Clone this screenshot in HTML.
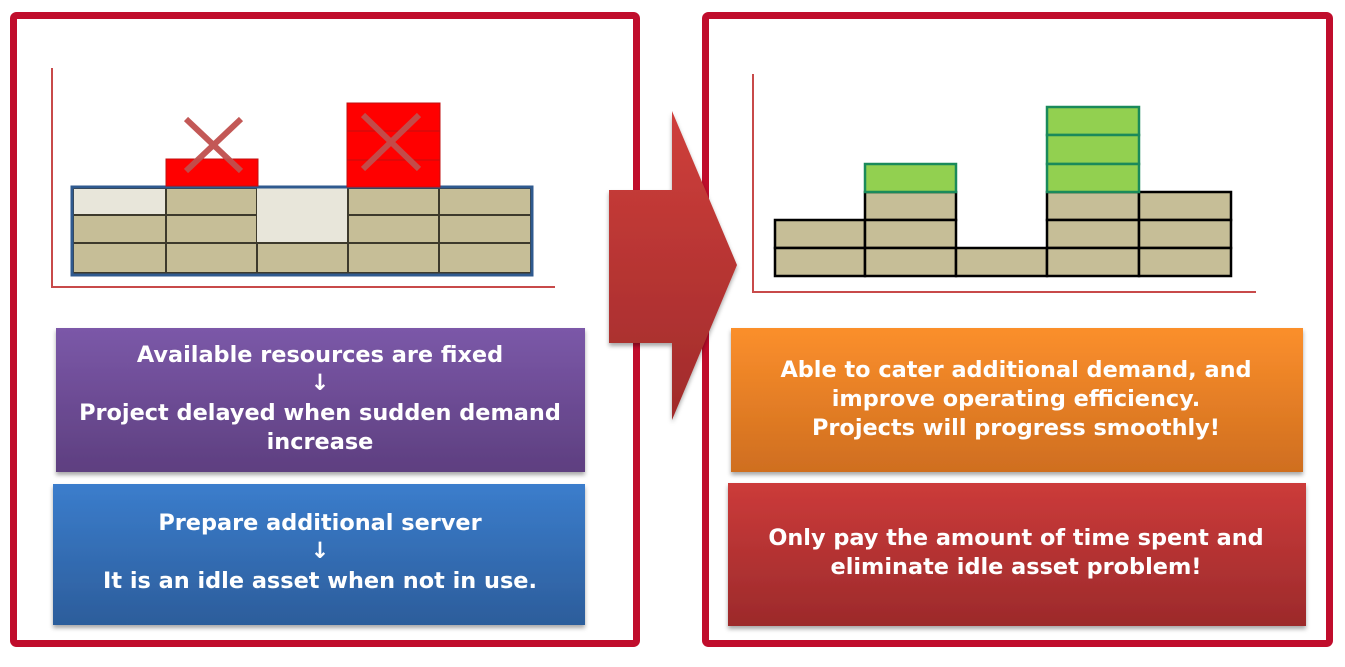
<!DOCTYPE html>
<html><head><meta charset="utf-8"><style>
html,body{margin:0;padding:0;background:#fff;width:1345px;height:667px;overflow:hidden}
svg{display:block}
text{font-family:"DejaVu Sans","Liberation Sans",sans-serif;font-weight:bold;font-size:22.4px;fill:#fff;text-anchor:middle}
</style></head><body>
<svg width="1345" height="667" viewBox="0 0 1345 667" xmlns="http://www.w3.org/2000/svg">
<defs>
<linearGradient id="gp" x1="0" y1="0" x2="0" y2="1"><stop offset="0" stop-color="#7b58a8"/><stop offset="1" stop-color="#5e3f80"/></linearGradient>
<linearGradient id="gb" x1="0" y1="0" x2="0" y2="1"><stop offset="0" stop-color="#3b7dcc"/><stop offset="1" stop-color="#2c5d9b"/></linearGradient>
<linearGradient id="go" x1="0" y1="0" x2="0" y2="1"><stop offset="0" stop-color="#fb8f2c"/><stop offset="1" stop-color="#cf6e1f"/></linearGradient>
<linearGradient id="gr" x1="0" y1="0" x2="0" y2="1"><stop offset="0" stop-color="#cc3b3a"/><stop offset="1" stop-color="#9c2a2b"/></linearGradient>
<linearGradient id="ga" x1="0" y1="0" x2="0" y2="1"><stop offset="0" stop-color="#cf3f3b"/><stop offset="1" stop-color="#a02b2b"/></linearGradient>
<filter id="sh" x="-5%" y="-5%" width="110%" height="115%"><feDropShadow dx="0" dy="3" stdDeviation="2" flood-opacity="0.35"/></filter>
</defs>
<rect x="13.5" y="15.5" width="623" height="628" rx="3" fill="none" stroke="#c00d2c" stroke-width="7"/>
<rect x="705.5" y="15.5" width="624" height="628" rx="3" fill="none" stroke="#c00d2c" stroke-width="7"/>

<line x1="52" y1="68" x2="52" y2="288" stroke="#c84a4a" stroke-width="2"/>
<line x1="51" y1="287" x2="555" y2="287" stroke="#c84a4a" stroke-width="2"/>
<g stroke="#3d3a2c" stroke-width="2">
<rect x="73" y="188" width="93" height="27" fill="#e8e6da"/>
<rect x="73" y="215" width="93" height="28" fill="#c6be97"/>
<rect x="73" y="243" width="93" height="30" fill="#c6be97"/>
<rect x="166" y="188" width="91" height="27" fill="#c6be97"/>
<rect x="166" y="215" width="91" height="28" fill="#c6be97"/>
<rect x="166" y="243" width="91" height="30" fill="#c6be97"/>
<rect x="257" y="188" width="91" height="55" fill="#e8e6da" stroke="none"/>
<rect x="257" y="243" width="91" height="30" fill="#c6be97"/>
<rect x="348" y="188" width="91" height="27" fill="#c6be97"/>
<rect x="348" y="215" width="91" height="28" fill="#c6be97"/>
<rect x="348" y="243" width="91" height="30" fill="#c6be97"/>
<rect x="439" y="188" width="92" height="27" fill="#c6be97"/>
<rect x="439" y="215" width="92" height="28" fill="#c6be97"/>
<rect x="439" y="243" width="92" height="30" fill="#c6be97"/>
</g>
<rect x="72" y="187" width="460" height="88" fill="none" stroke="#2f5a8f" stroke-width="3"/>
<g fill="#ff0000" stroke="#c01010" stroke-width="1">
<rect x="166" y="159" width="92" height="27"/>
<rect x="347" y="103" width="93" height="28"/>
<rect x="347" y="131" width="93" height="29"/>
<rect x="347" y="160" width="93" height="27"/>
</g>
<g stroke="#c0504d" stroke-width="6" stroke-linecap="butt" opacity="0.95">
<line x1="186" y1="119" x2="241" y2="171"/><line x1="241" y1="119" x2="186" y2="171"/>
<line x1="363" y1="115" x2="419" y2="169"/><line x1="419" y1="115" x2="363" y2="169"/>
</g>

<line x1="753" y1="74" x2="753" y2="293" stroke="#c84a4a" stroke-width="2"/>
<line x1="752" y1="292" x2="1256" y2="292" stroke="#c84a4a" stroke-width="2"/>
<g stroke="#000" stroke-width="2.5" fill="#c6be97">
<rect x="775" y="220" width="90" height="28"/>
<rect x="775" y="248" width="90" height="28"/>
<rect x="865" y="192" width="91" height="28"/>
<rect x="865" y="220" width="91" height="28"/>
<rect x="865" y="248" width="91" height="28"/>
<rect x="956" y="248" width="91" height="28"/>
<rect x="1047" y="192" width="92" height="28"/>
<rect x="1047" y="220" width="92" height="28"/>
<rect x="1047" y="248" width="92" height="28"/>
<rect x="1139" y="192" width="92" height="28"/>
<rect x="1139" y="220" width="92" height="28"/>
<rect x="1139" y="248" width="92" height="28"/>
</g>
<g stroke="#1a8a5a" stroke-width="2.5" fill="#92d050">
<rect x="865" y="164" width="91" height="28"/>
<rect x="1047" y="107" width="92" height="28"/>
<rect x="1047" y="135" width="92" height="29"/>
<rect x="1047" y="164" width="92" height="28"/>
</g>

<polygon points="609,190 672,190 672,111 737,265 672,420 672,343 609,343" fill="url(#ga)" filter="url(#sh)"/>

<rect x="56" y="328" width="529" height="144" fill="url(#gp)" filter="url(#sh)"/>
<text x="320" y="362">Available resources are fixed</text>
<text x="320" y="390">↓</text>
<text x="320" y="420">Project delayed when sudden demand</text>
<text x="320" y="449">increase</text>
<rect x="53" y="484" width="532" height="141" fill="url(#gb)" filter="url(#sh)"/>
<text x="320" y="530">Prepare additional server</text>
<text x="320" y="558">↓</text>
<text x="320" y="588">It is an idle asset when not in use.</text>

<rect x="731" y="328" width="572" height="144" fill="url(#go)" filter="url(#sh)"/>
<text x="1016" y="377">Able to cater additional demand, and</text>
<text x="1016" y="406">improve operating efficiency.</text>
<text x="1016" y="435">Projects will progress smoothly!</text>
<rect x="728" y="483" width="578" height="143" fill="url(#gr)" filter="url(#sh)"/>
<text x="1016" y="545">Only pay the amount of time spent and</text>
<text x="1016" y="574">eliminate idle asset problem!</text>
</svg>
</body></html>
